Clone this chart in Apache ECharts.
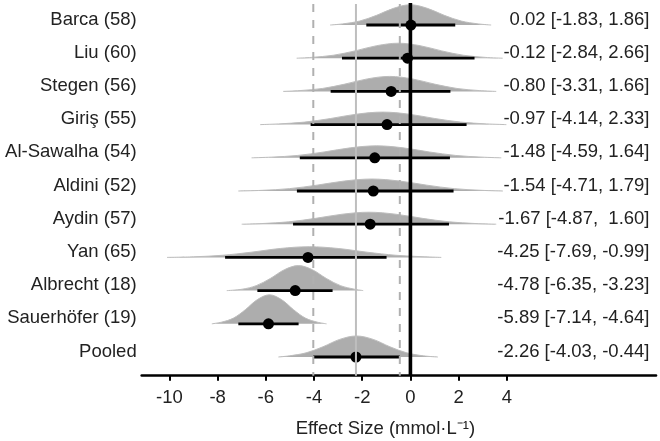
<!DOCTYPE html>
<html>
<head>
<meta charset="utf-8">
<style>html,body{margin:0;padding:0;background:#fff}#c{width:660px;height:441px}</style>
<script src="https://cdn.jsdelivr.net/npm/echarts@6/dist/echarts.min.js"></script>
</head>
<body>
<div id="c"></div>
<script>
// ---- data ----
const studies = ['Barca (58)', 'Liu (60)', 'Stegen (56)', 'Giriş (55)', 'Al-Sawalha (54)', 'Aldini (52)', 'Aydin (57)', 'Yan (65)', 'Albrecht (18)', 'Sauerhöfer (19)', 'Pooled'];
const estimates = [0.02, -0.12, -0.80, -0.97, -1.48, -1.54, -1.67, -4.25, -4.78, -5.89, -2.26];
const ciLower = [-1.83, -2.84, -3.31, -4.14, -4.59, -4.71, -4.87, -7.69, -6.35, -7.14, -4.03];
const ciUpper = [1.86, 2.66, 1.66, 2.33, 1.64, 1.79, 1.60, -0.99, -3.23, -4.64, -0.44];
const ciText = ['0.02 [-1.83, 1.86]', '-0.12 [-2.84, 2.66]', '-0.80 [-3.31, 1.66]', '-0.97 [-4.14, 2.33]', '-1.48 [-4.59, 1.64]', '-1.54 [-4.71, 1.79]', '-1.67 [-4.87,  1.60]', '-4.25 [-7.69, -0.99]', '-4.78 [-6.35, -3.23]', '-5.89 [-7.14, -4.64]', '-2.26 [-4.03, -0.44]'];
const xTicks = [-10, -8, -6, -4, -2, 0, 2, 4];
const pooledEstimate = -2.26;
const pooledCI = [-4.03, -0.44];
const nullValue = 0;

// density outlines: tail ends and sampled curve points (x, height in row units)
const densLo = [-3.33, -4.72, -5.28, -6.24, -6.59, -7.14, -7.00, -10.1, -7.62, -8.24, -5.48];
const densHi = [3.35, 3.83, 3.56, 3.98, 3.77, 3.84, 3.56, 1.28, -1.96, -3.48, 1.14];
const densX = [
  [-2.81, -2.11, -1.40, -0.70, 0.00, 0.70, 1.40, 2.11, 2.81],
  [-4.10, -3.20, -2.30, -1.40, -0.50, 0.40, 1.30, 2.20, 3.10],
  [-4.58, -3.65, -2.72, -1.79, -0.86, 0.07, 1.00, 1.93, 2.86],
  [-5.47, -4.39, -3.31, -2.23, -1.15, -0.07, 1.01, 2.09, 3.17],
  [-5.77, -4.68, -3.58, -2.49, -1.40, -0.31, 0.78, 1.88, 2.97],
  [-6.16, -5.02, -3.88, -2.74, -1.60, -0.46, 0.68, 1.82, 2.96],
  [-6.16, -5.05, -3.94, -2.83, -1.72, -0.61, 0.50, 1.61, 2.72],
  [-9.00, -7.80, -6.60, -5.40, -4.20, -3.00, -1.80, -0.60, 0.60],
  [-6.98, -6.40, -5.81, -5.23, -4.65, -4.07, -3.49, -2.90, -2.32],
  [-7.84, -7.34, -6.85, -6.35, -5.85, -5.35, -4.85, -4.36, -3.86],
  [-5.02, -4.33, -3.63, -2.94, -2.24, -1.54, -0.85, -0.15, 0.54]
];
const densY = [
  [0.034, 0.119, 0.293, 0.503, 0.610, 0.503, 0.293, 0.119, 0.034],
  [0.025, 0.089, 0.220, 0.377, 0.452, 0.377, 0.220, 0.089, 0.025],
  [0.025, 0.089, 0.220, 0.377, 0.452, 0.377, 0.220, 0.089, 0.025],
  [0.021, 0.075, 0.184, 0.315, 0.377, 0.315, 0.184, 0.075, 0.021],
  [0.020, 0.071, 0.176, 0.301, 0.361, 0.301, 0.176, 0.071, 0.020],
  [0.020, 0.071, 0.176, 0.301, 0.361, 0.301, 0.176, 0.071, 0.020],
  [0.020, 0.071, 0.176, 0.301, 0.361, 0.301, 0.176, 0.071, 0.020],
  [0.018, 0.064, 0.157, 0.269, 0.322, 0.269, 0.157, 0.064, 0.018],
  [0.042, 0.149, 0.367, 0.629, 0.753, 0.629, 0.367, 0.149, 0.042],
  [0.049, 0.173, 0.425, 0.729, 0.873, 0.729, 0.425, 0.173, 0.049],
  [0.035, 0.125, 0.308, 0.529, 0.633, 0.529, 0.308, 0.125, 0.035]
];

// ---- chart ----
const n = studies.length;
const rowOf = i => n - 1 - i;
const FONT = "'Liberation Sans', Arial, Helvetica, sans-serif";
const FS = 18.5;
const X_MIN = -11.15, X_MAX = 10.19;
const Y_MIN = -0.563, Y_MAX = 10.633;
const LABEL_LIFT = 5.5;

const chart = echarts.init(document.getElementById('c'), null, {renderer: 'canvas'});
const option = {
  animation: false,
  backgroundColor: '#ffffff',
  grid: {left: 141.7, right: 4, top: 4, bottom: 65.3, containLabel: false, outerBoundsMode: 'none'},
  xAxis: {
    type: 'value', min: X_MIN, max: X_MAX,
    axisLine: {show: true, onZero: false, lineStyle: {color: '#000', width: 2.6}},
    axisTick: {show: true, customValues: xTicks, length: 5, lineStyle: {color: '#000', width: 2}},
    axisLabel: {show: true, customValues: xTicks, margin: 13, fontSize: FS, color: '#222', fontFamily: FONT},
    splitLine: {show: false},
    name: 'Effect Size (mmol·L⁻¹)', nameLocation: 'middle', nameGap: 43.5,
    nameTextStyle: {fontSize: FS, color: '#222', fontFamily: FONT, padding: [0, 27, 0, 0]}
  },
  yAxis: {
    type: 'value', min: Y_MIN, max: Y_MAX,
    axisLine: {show: false}, axisTick: {show: false}, splitLine: {show: false}, axisLabel: {show: false}
  },
  series: [
    {
      type: 'custom', z: 1, silent: true,
      data: studies.map((s, i) => [i]),
      renderItem: function (params, api) {
        const i = api.value(0);
        const base = rowOf(i);
        const pts = [api.coord([densLo[i], base])];
        for (let k = 0; k < densX[i].length; k++) pts.push(api.coord([densX[i][k], base + densY[i][k]]));
        pts.push(api.coord([densHi[i], base]));
        return {type: 'polyline', shape: {points: pts, smooth: 0.35},
          style: {fill: '#adadad', stroke: '#bdbdbd', lineWidth: 1}};
      }
    },
    {
      type: 'custom', z: 2, silent: true,
      data: studies.map((s, i) => [ciLower[i], ciUpper[i], rowOf(i)]),
      renderItem: function (params, api) {
        const a = api.coord([api.value(0), api.value(2)]);
        const b = api.coord([api.value(1), api.value(2)]);
        return {type: 'line', shape: {x1: a[0], y1: a[1], x2: b[0], y2: b[1]},
          style: {stroke: '#000', lineWidth: 2.8}};
      }
    },
    {
      type: 'scatter', z: 3, silent: true, symbol: 'circle', symbolSize: 11,
      itemStyle: {color: '#000', opacity: 1},
      data: estimates.map((e, i) => [e, rowOf(i)])
    },
    {
      type: 'custom', z: 4, silent: true,
      data: [[pooledCI[0], 1], [pooledCI[1], 1], [pooledEstimate, 0]],
      renderItem: function (params, api) {
        const v = api.value(0);
        const a = api.coord([v, Y_MAX]);
        const b = api.coord([v, Y_MIN]);
        const dashed = api.value(1) === 1;
        return {type: 'line', shape: {x1: a[0], y1: a[1], x2: b[0], y2: b[1]},
          style: {stroke: dashed ? '#b0b0b0' : '#bebebe', lineWidth: 2, lineDash: dashed ? [8, 8] : null}};
      }
    },
    {
      type: 'custom', z: 5, silent: true,
      data: [[nullValue]],
      renderItem: function (params, api) {
        const a = api.coord([api.value(0), Y_MAX + 0.03]);
        const b = api.coord([api.value(0), Y_MIN]);
        return {type: 'line', shape: {x1: a[0], y1: a[1], x2: b[0], y2: b[1]},
          style: {stroke: '#000', lineWidth: 3.6}};
      }
    },
    {
      // study names (left) and estimate text (right)
      type: 'custom', z: 6, silent: true, clip: false,
      data: studies.map((s, i) => [i]),
      renderItem: function (params, api) {
        const i = api.value(0);
        const L = api.coord([X_MIN, rowOf(i)]);
        const R = api.coord([X_MAX, rowOf(i)]);
        return {type: 'group', children: [
          {type: 'text', x: L[0] - 5, y: L[1] - LABEL_LIFT,
            style: {text: studies[i], align: 'right', verticalAlign: 'middle', fontSize: FS, fontFamily: FONT, fill: '#222'}},
          {type: 'text', x: R[0] - 6.5, y: R[1] - LABEL_LIFT,
            style: {text: ciText[i], align: 'right', verticalAlign: 'middle', fontSize: FS, fontFamily: FONT, fill: '#222'}}
        ]};
      }
    }
  ]
};
chart.setOption(option);
</script>
</body>
</html>
